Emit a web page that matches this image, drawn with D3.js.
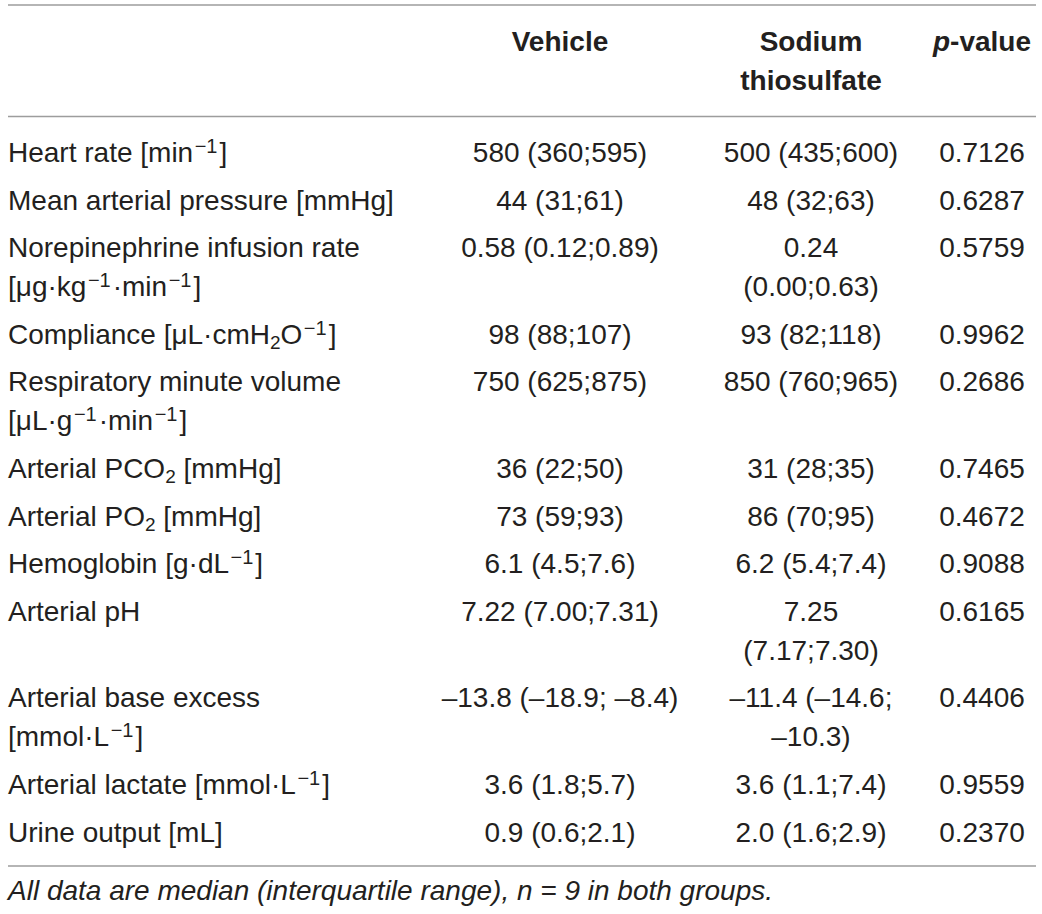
<!DOCTYPE html>
<html>
<head>
<meta charset="utf-8">
<script src="https://cdn.jsdelivr.net/npm/d3@7"></script>
<style>
  html, body { margin: 0; padding: 0; background: #fff; }
  svg text { font-family: "Liberation Sans", Arial, Helvetica, sans-serif; fill: #231f20; }
</style>
</head>
<body>
<div id="table"></div>
<script>
// ^{..} superscript, _{..} subscript, *..* italic, \n = line break in the cell
const headers = ["", "Vehicle", "Sodium\nthiosulfate", "*p*-value"];

const rowLabels = [
  "Heart rate [min^{−1}]",
  "Mean arterial pressure [mmHg]",
  "Norepinephrine infusion rate\n[μg·kg^{−1}·min^{−1}]",
  "Compliance [μL·cmH_{2}O^{−1}]",
  "Respiratory minute volume\n[μL·g^{−1}·min^{−1}]",
  "Arterial PCO_{2} [mmHg]",
  "Arterial PO_{2} [mmHg]",
  "Hemoglobin [g·dL^{−1}]",
  "Arterial pH",
  "Arterial base excess\n[mmol·L^{−1}]",
  "Arterial lactate [mmol·L^{−1}]",
  "Urine output [mL]"
];

const vehicleValues = [
  "580 (360;595)",
  "44 (31;61)",
  "0.58 (0.12;0.89)",
  "98 (88;107)",
  "750 (625;875)",
  "36 (22;50)",
  "73 (59;93)",
  "6.1 (4.5;7.6)",
  "7.22 (7.00;7.31)",
  "–13.8 (–18.9; –8.4)",
  "3.6 (1.8;5.7)",
  "0.9 (0.6;2.1)"
];

const thiosulfateValues = [
  "500 (435;600)",
  "48 (32;63)",
  "0.24\n(0.00;0.63)",
  "93 (82;118)",
  "850 (760;965)",
  "31 (28;35)",
  "86 (70;95)",
  "6.2 (5.4;7.4)",
  "7.25\n(7.17;7.30)",
  "–11.4 (–14.6;\n–10.3)",
  "3.6 (1.1;7.4)",
  "2.0 (1.6;2.9)"
];

const pValues = [
  "0.7126", "0.6287", "0.5759", "0.9962", "0.2686", "0.7465",
  "0.4672", "0.9088", "0.6165", "0.4406", "0.9559", "0.2370"
];

const footnote = "*All data are median (interquartile range), n = 9 in both groups.*";

// layout
const W = 1042, H = 914;
const fontSize = 28, supSize = 20, subSize = 19;
const lineH = 39, rowGap = 47.6;
const ruleX0 = 8, ruleX1 = 1036;
const columns = ["label", "vehicle", "thiosulfate", "p"];
const colX = d3.scaleOrdinal().domain(columns).range([8, 560, 811, 982]);
const colAnchor = d3.scaleOrdinal().domain(columns).range(["start", "middle", "middle", "middle"]);

const svg = d3.select("#table").append("svg")
  .attr("width", W)
  .attr("height", H);

// split a line into runs of plain / sup / sub / italic text
function parseRuns(line) {
  return line.split(/(\^\{[^}]*\}|_\{[^}]*\}|\*[^*]*\*)/).filter(s => s.length).map(s => {
    if (s.startsWith("^{")) return { text: s.slice(2, -1), kind: "sup" };
    if (s.startsWith("_{")) return { text: s.slice(2, -1), kind: "sub" };
    if (s.startsWith("*")) return { text: s.slice(1, -1), kind: "it" };
    return { text: s, kind: "plain" };
  });
}

function drawLine(g, line, x, y, anchor, opts = {}) {
  const t = g.append("text")
    .attr("x", x)
    .attr("y", y)
    .attr("text-anchor", anchor)
    .style("font-size", (opts.size || fontSize) + "px")
    .style("font-weight", opts.bold ? "bold" : null)
    .style("font-style", opts.italic ? "italic" : null);
  let shift = 0, prev = null;
  parseRuns(line).forEach(r => {
    const target = r.kind === "sup" ? -9 : r.kind === "sub" ? 5 : 0;
    const ts = t.append("tspan").text(r.text).attr("dy", target - shift);
    if (r.kind === "sup") ts.attr("dx", 1.5);
    else if (prev === "sup") ts.attr("dx", 2);
    shift = target;
    prev = r.kind;
    if (r.kind === "sup") ts.style("font-size", supSize + "px");
    if (r.kind === "sub") ts.style("font-size", subSize + "px");
    if (r.kind === "it") ts.style("font-style", "italic");
  });
  return t;
}

function drawCell(g, text, col, y, opts) {
  text.split("\n").forEach((ln, i) => {
    drawLine(g, ln, colX(col), y + i * lineH, colAnchor(col), opts);
  });
}

// rules
const rules = svg.append("g")
  .attr("stroke", "#9d9d9d")
  .attr("stroke-width", 1.5);
[5, 116.5, 866].forEach(yy => {
  rules.append("line")
    .attr("x1", ruleX0).attr("x2", ruleX1)
    .attr("y1", yy).attr("y2", yy);
});

// header
const head = svg.append("g");
headers.forEach((h, i) => {
  if (h) drawCell(head, h, columns[i], 51, { bold: true });
});

// body rows
const body = svg.append("g");
let y = 162;
rowLabels.forEach((lab, i) => {
  const cells = [lab, vehicleValues[i], thiosulfateValues[i], pValues[i]];
  cells.forEach((c, j) => drawCell(body, c, columns[j], y));
  const nLines = d3.max(cells, c => c.split("\n").length);
  y += (nLines - 1) * lineH + rowGap;
});

// footnote
drawLine(svg, footnote, 8, 900, "start");
</script>
</body>
</html>
